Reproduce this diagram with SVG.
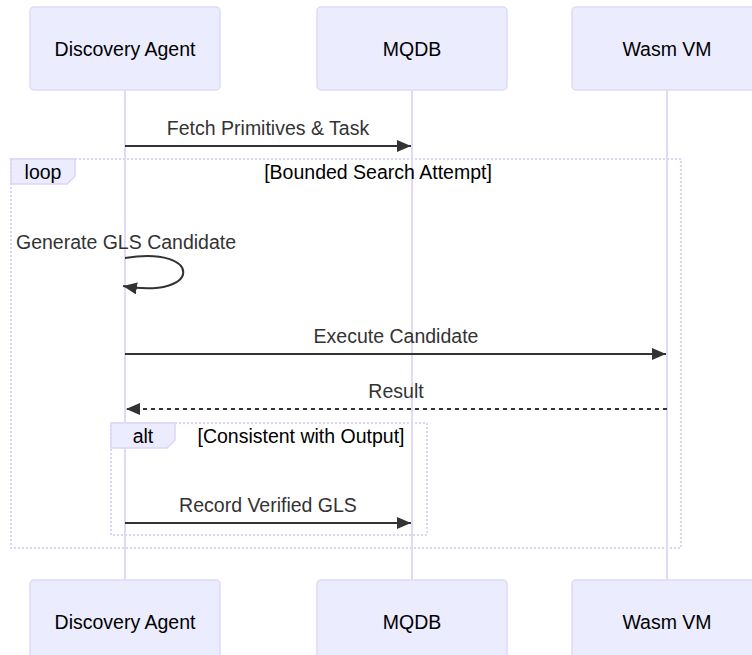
<svg xmlns="http://www.w3.org/2000/svg" width="752" height="655" viewBox="0 0 752 655">
<style>
.actor{fill:#ECECFF;stroke:#E0D9F7;stroke-width:1.5}
.atext{font-family:"Liberation Sans",Arial,sans-serif;font-size:19.5px;fill:#000;text-anchor:middle;dominant-baseline:central}
.life{stroke:#E0D9F7;stroke-width:2}
.msg{stroke:#333;stroke-width:2;fill:none}
.dash{stroke-dasharray:4 4}
.mtext{font-family:"Liberation Sans",Arial,sans-serif;font-size:19.5px;fill:#333;text-anchor:middle}
.frame{fill:none;stroke:#DDD4F6;stroke-width:2;stroke-dasharray:2 2}
.lbox{fill:#ECECFF;stroke:#DDD4F6;stroke-width:1.5}
.ltext{font-family:"Liberation Sans",Arial,sans-serif;font-size:19.5px;fill:#000;text-anchor:middle}
</style>
<defs>
<marker id="arrow" viewBox="0 0 14 12" refX="14" refY="6" markerWidth="14" markerHeight="12" markerUnits="userSpaceOnUse" orient="auto">
<path d="M0,0 L14,6 L0,12 z" fill="#333"/>
</marker>
</defs>
<g id="lifelines">
<line class="life" x1="125" y1="90" x2="125" y2="580"/>
<line class="life" x1="412" y1="90" x2="412" y2="580"/>
<line class="life" x1="667" y1="90" x2="667" y2="580"/>
</g>
<g id="actor-discovery-top"><rect class="actor" x="30" y="7" width="190" height="83" rx="4"/><text class="atext" x="125" y="49">Discovery Agent</text></g>
<g id="actor-mqdb-top"><rect class="actor" x="317" y="7" width="190" height="83" rx="4"/><text class="atext" x="412" y="49">MQDB</text></g>
<g id="actor-wasm-top"><rect class="actor" x="572" y="7" width="190" height="83" rx="4"/><text class="atext" x="667" y="49">Wasm VM</text></g>
<g id="actor-discovery-bottom"><rect class="actor" x="30" y="580" width="190" height="83" rx="4"/><text class="atext" x="125" y="622">Discovery Agent</text></g>
<g id="actor-mqdb-bottom"><rect class="actor" x="317" y="580" width="190" height="83" rx="4"/><text class="atext" x="412" y="622">MQDB</text></g>
<g id="actor-wasm-bottom"><rect class="actor" x="572" y="580" width="190" height="83" rx="4"/><text class="atext" x="667" y="622">Wasm VM</text></g>
<g id="loop-frame">
<rect class="frame" x="11" y="159" width="670" height="389"/>
<polygon class="lbox" points="11,159 75,159 75,176 67,184 11,184"/>
<text class="ltext" x="43" y="179">loop</text>
<text class="ltext" x="378" y="179">[Bounded Search Attempt]</text>
</g>
<g id="alt-frame">
<rect class="frame" x="111" y="423" width="316" height="112"/>
<polygon class="lbox" points="111,423 175,423 175,440 167,448 111,448"/>
<text class="ltext" x="143" y="443">alt</text>
<text class="ltext" x="301" y="443">[Consistent with Output]</text>
</g>
<g id="connectors">
<line class="msg" x1="125" y1="146" x2="411" y2="146" marker-end="url(#arrow)"/>
<text class="mtext" x="268" y="135">Fetch Primitives &amp; Task</text>
<path class="msg" d="M125,258 C203,245 203,300 123,286" marker-end="url(#arrow)"/>
<text class="mtext" x="126" y="249">Generate GLS Candidate</text>
<line class="msg" x1="125" y1="354" x2="666" y2="354" marker-end="url(#arrow)"/>
<text class="mtext" x="396" y="343">Execute Candidate</text>
<line class="msg dash" x1="667" y1="409" x2="126" y2="409" marker-end="url(#arrow)"/>
<text class="mtext" x="396" y="398">Result</text>
<line class="msg" x1="125" y1="523" x2="411" y2="523" marker-end="url(#arrow)"/>
<text class="mtext" x="268" y="512">Record Verified GLS</text>
</g>
</svg>
